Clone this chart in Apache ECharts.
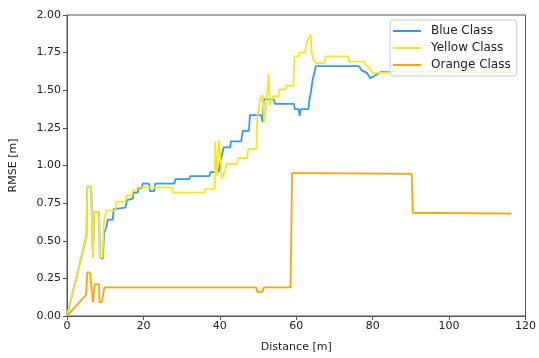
<!DOCTYPE html>
<html>
<head>
<meta charset="utf-8">
<script src="https://cdn.jsdelivr.net/npm/echarts@6/dist/echarts.min.js"></script>
<style>
  html, body { margin: 0; padding: 0; background: #fff; }
  #chart { width: 539px; height: 358px; }
</style>
</head>
<body>
<div id="chart"></div>
<script>
// [distance, rmse] pairs
const blueClass = [
  [0, 0], [5.1, 0.53], [5.3, 0.86], [6.3, 0.86], [6.8, 0.39], [7.1, 0.69], [8.4, 0.69],
  [8.6, 0.39], [9.4, 0.38], [9.7, 0.55], [10.3, 0.59], [10.7, 0.64], [12.0, 0.64],
  [12.2, 0.71], [15.3, 0.72], [15.7, 0.77], [17.2, 0.78], [17.4, 0.82], [18.5, 0.82],
  [18.8, 0.85], [19.6, 0.85], [19.8, 0.88], [21.5, 0.88], [21.7, 0.83], [22.8, 0.83],
  [23.1, 0.88], [28.1, 0.88], [28.4, 0.91], [32.0, 0.91], [32.3, 0.93], [37.3, 0.93],
  [37.5, 0.955], [39.7, 0.96], [40.1, 1.02], [40.5, 1.065], [41.0, 1.12], [42.7, 1.12],
  [42.9, 1.16], [45.6, 1.16], [46.0, 1.23], [47.6, 1.23], [47.9, 1.335], [50.8, 1.335],
  [51.2, 1.29], [51.5, 1.44], [54.2, 1.44], [54.4, 1.41], [59.4, 1.41], [59.6, 1.375],
  [60.6, 1.375], [60.9, 1.33], [61.2, 1.375], [63.2, 1.375], [63.4, 1.43], [63.8, 1.48],
  [64.3, 1.57], [64.6, 1.6], [65.1, 1.66], [76.4, 1.66], [77.2, 1.63], [78.5, 1.615],
  [79.4, 1.58], [79.8, 1.59], [80.7, 1.6], [82.0, 1.62], [116.3, 1.62]
];
const yellowClass = [
  [0, 0], [5.1, 0.53], [5.3, 0.86], [6.3, 0.86], [6.8, 0.39], [7.1, 0.69], [8.4, 0.69],
  [8.6, 0.39], [9.3, 0.39], [9.6, 0.6], [9.85, 0.65], [10.3, 0.7], [12.7, 0.7],
  [12.9, 0.76], [15.3, 0.76], [15.5, 0.8], [17.0, 0.8], [17.2, 0.835], [18.3, 0.835],
  [18.5, 0.855], [27.5, 0.855], [27.7, 0.82], [36.0, 0.82], [36.2, 0.845], [38.7, 0.845],
  [38.8, 1.16], [39.2, 0.93], [39.8, 1.17], [40.1, 1.17], [40.5, 0.91], [41.0, 0.91],
  [41.4, 0.97], [41.8, 1.01], [44.6, 1.01], [44.8, 1.05], [47.2, 1.05], [47.4, 1.11],
  [49.6, 1.11], [49.8, 1.31], [50.5, 1.44], [51.2, 1.47], [51.6, 1.28], [52.3, 1.45],
  [52.8, 1.61], [53.1, 1.4], [53.9, 1.46], [55.4, 1.46], [55.6, 1.505], [57.2, 1.505],
  [57.4, 1.53], [59.3, 1.53], [59.5, 1.725], [60.6, 1.725], [60.8, 1.75], [62.3, 1.75],
  [62.5, 1.79], [63.0, 1.835], [63.8, 1.87], [64.0, 1.76], [64.5, 1.7], [64.9, 1.71],
  [65.1, 1.68], [67.5, 1.68], [67.7, 1.725], [73.6, 1.725], [73.8, 1.69], [77.9, 1.69],
  [78.1, 1.67], [79.4, 1.64], [79.8, 1.615], [81.7, 1.615], [82.0, 1.625], [116.3, 1.625]
];
const orangeClass = [
  [0, 0], [5.0, 0.14], [5.3, 0.29], [6.0, 0.29], [6.8, 0.09], [7.2, 0.21], [8.4, 0.21],
  [8.5, 0.09], [9.1, 0.09], [9.8, 0.19], [49.5, 0.19], [49.8, 0.16], [51.1, 0.16],
  [51.6, 0.19], [52.0, 0.2], [52.3, 0.19], [58.5, 0.19], [58.9, 0.95], [63.8, 0.95],
  [64.0, 0.955], [64.2, 0.95], [90.2, 0.945], [90.5, 0.686], [116.3, 0.68]
];
const seriesNames = ['Blue Class', 'Yellow Class', 'Orange Class'];
const seriesColors = ['#3399ff', '#f7e81a', '#ffa500'];

const font = 'DejaVu Sans';
const chart = echarts.init(document.getElementById('chart'));

const lineSeries = (name, data, color) => ({
  name: name,
  type: 'line',
  data: data,
  showSymbol: false,
  symbol: 'none',
  animation: false,
  lineStyle: { color: color, width: 1.8 },
  itemStyle: { color: color }
});

chart.setOption({
  animation: false,
  grid: {
    left: 67, right: 9, top: 15, bottom: 40,
    show: true, borderColor: '#555', borderWidth: 1
  },
  legend: {
    orient: 'vertical',
    left: 390, top: 20,
    padding: [4, 6, 4, 3],
    itemGap: 3,
    itemWidth: 28, itemHeight: 2,
    icon: 'rect',
    backgroundColor: 'rgba(255,255,255,0.8)',
    borderColor: '#ccc', borderWidth: 1, borderRadius: 3,
    textStyle: { fontFamily: font, fontSize: 12, color: '#222', lineHeight: 14, padding: [0, 0, 0, 5] },
    data: seriesNames
  },
  xAxis: {
    type: 'value',
    min: 0, max: 120, interval: 20,
    name: 'Distance [m]', nameLocation: 'middle', nameGap: 26,
    nameTextStyle: { fontFamily: font, fontSize: 11, color: '#222' },
    axisLine: { lineStyle: { color: '#555' } },
    axisTick: { show: true, length: 4, lineStyle: { color: '#555' } },
    axisLabel: { fontFamily: font, fontSize: 11, color: '#222', margin: 5 },
    splitLine: { show: false }
  },
  yAxis: {
    type: 'value',
    min: 0, max: 2, interval: 0.25,
    name: 'RMSE [m]', nameLocation: 'middle', nameGap: 48, nameRotate: 90,
    nameTextStyle: { fontFamily: font, fontSize: 11, color: '#222' },
    axisLine: { show: true, lineStyle: { color: '#555' } },
    axisTick: { show: true, length: 4, lineStyle: { color: '#555' } },
    axisLabel: {
      fontFamily: font, fontSize: 11, color: '#222', margin: 6,
      formatter: v => v.toFixed(2)
    },
    splitLine: { show: false }
  },
  series: [
    lineSeries(seriesNames[0], blueClass, seriesColors[0]),
    lineSeries(seriesNames[1], yellowClass, seriesColors[1]),
    lineSeries(seriesNames[2], orangeClass, seriesColors[2])
  ]
});
</script>
</body>
</html>
